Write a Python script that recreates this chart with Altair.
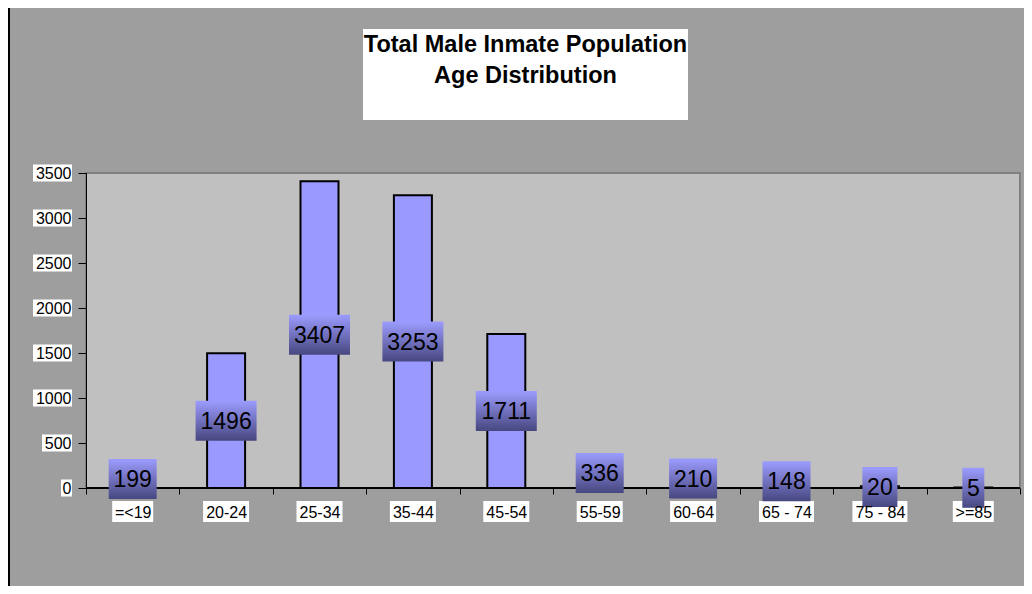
import altair as alt
import pandas as pd

categories = ["=<19", "20-24", "25-34", "35-44", "45-54", "55-59", "60-64", "65 - 74", "75 - 84", ">=85"]
values = [199, 1496, 3407, 3253, 1711, 336, 210, 148, 20, 5]
y_ticks = [0, 500, 1000, 1500, 2000, 2500, 3000, 3500]
title_lines = ["Total Male Inmate Population", "Age Distribution"]

W, H = 934, 315
FONT = "Liberation Sans"

df = pd.DataFrame({"cat": categories, "value": values})
df["mid"] = df["value"] / 2
df["zero"] = 0
df["nd"] = df["value"].astype(str).str.len()
df["nl"] = df["cat"].str.len()

xscale = alt.Scale(domain=categories, paddingInner=0, paddingOuter=0)
yscale = alt.Scale(domain=[0, 3500], nice=False)

X = alt.X("cat:N", scale=xscale, sort=categories,
          axis=alt.Axis(title=None, labelAngle=0, labelAlign="center", labelFontSize=16,
                        labelFont=FONT, labelColor="black", tickBand="extent", tickSize=6,
                        tickColor="black", domain=False, labelPadding=23,
                        labelBaseline="alphabetic", labelOverlap=False, zindex=1))
Y = alt.Y("value:Q", scale=yscale,
          axis=alt.Axis(title=None, values=y_ticks, format="d", tickSize=8, tickColor="black",
                        domainColor="black", labelFontSize=16, labelFont=FONT,
                        labelColor="black", labelPadding=7, grid=False, zindex=1))

base = alt.Chart(df)
XC = alt.X("cat:N", scale=xscale, sort=categories)

# white boxes behind x labels
xbox_widths = {4: 41, 5: 46, 7: 55}
xboxes = [
    base.transform_filter(alt.datum.nl == n).mark_bar(
        width=w, fill="white", yOffset=13, y2Offset=34).encode(
        x=XC, y=alt.Y("zero:Q", scale=yscale), y2="zero:Q")
    for n, w in xbox_widths.items()
]

# white boxes behind y labels
ydf = pd.DataFrame({"t": y_ticks})
ydf["len"] = ydf["t"].astype(str).str.len()
ybox_left = {1: -25, 3: -44, 4: -53}
yboxes = [
    alt.Chart(ydf).transform_filter(alt.datum.len == n).mark_bar(
        fill="white", yOffset=-8.5, y2Offset=8.5).encode(
        y=alt.Y("t:Q", scale=yscale), y2="t:Q",
        x=alt.value(left), x2=alt.value(-14))
    for n, left in ybox_left.items()
]

bars = base.mark_bar(width=38, fill="#9999FF", stroke="black", strokeWidth=2).encode(x=X, y=Y)

axis_line = base.mark_rule(color="black", strokeWidth=1).encode(
    y=alt.Y("zero:Q", scale=yscale), x=alt.value(0), x2=alt.value(W))

grad = alt.Gradient(gradient="linear",
                    stops=[alt.GradientStop(color="#9C9CFF", offset=0),
                           alt.GradientStop(color="#474780", offset=1)],
                    x1=0, x2=0, y1=0, y2=1)
box_widths = {1: 22, 2: 35, 3: 48, 4: 61}
lboxes = [
    base.transform_filter(alt.datum.nd == n).mark_bar(
        width=w, fill=grad, yOffset=-20, y2Offset=20).encode(
        x=XC, y=alt.Y("mid:Q", scale=yscale), y2="mid:Q")
    for n, w in box_widths.items()
]
ltext = base.mark_text(fontSize=23, font=FONT, color="black", baseline="alphabetic", dy=8).encode(
    x=XC, y=alt.Y("mid:Q", scale=yscale), text="value:Q")

tdf = pd.DataFrame({"line": title_lines})
title_box = alt.Chart(tdf.head(1)).mark_rect(fill="white").encode(
    x=alt.value(277), x2=alt.value(602), y=alt.value(-144), y2=alt.value(-53))
title1 = alt.Chart(tdf.iloc[[0]]).mark_text(fontSize=23.5, fontWeight="bold", font=FONT,
                                             color="black", align="center", baseline="alphabetic").encode(
    x=alt.value(439.5), y=alt.value(-121), text="line:N")
title2 = alt.Chart(tdf.iloc[[1]]).mark_text(fontSize=23.5, fontWeight="bold", font=FONT,
                                             color="black", align="center", baseline="alphabetic").encode(
    x=alt.value(439.5), y=alt.value(-90), text="line:N")

frame = alt.Chart(tdf.head(1)).mark_rule(color="black", strokeWidth=2).encode(
    x=alt.value(-77), y=alt.value(-165), y2=alt.value(H + 98))

chart = alt.layer(
    *xboxes, *yboxes, bars, axis_line, *lboxes, ltext, title_box, title1, title2, frame
).properties(
    width=W, height=H,
    padding={"left": 78, "top": 165, "right": 4, "bottom": 98},
    autosize="none",
    background="#9E9E9E",
).configure_view(fill="#C0C0C0", stroke="#808080", strokeWidth=2
).configure_axis(labelFont=FONT)

chart.save("out.html", embed_options={"renderer": "svg", "actions": False})
